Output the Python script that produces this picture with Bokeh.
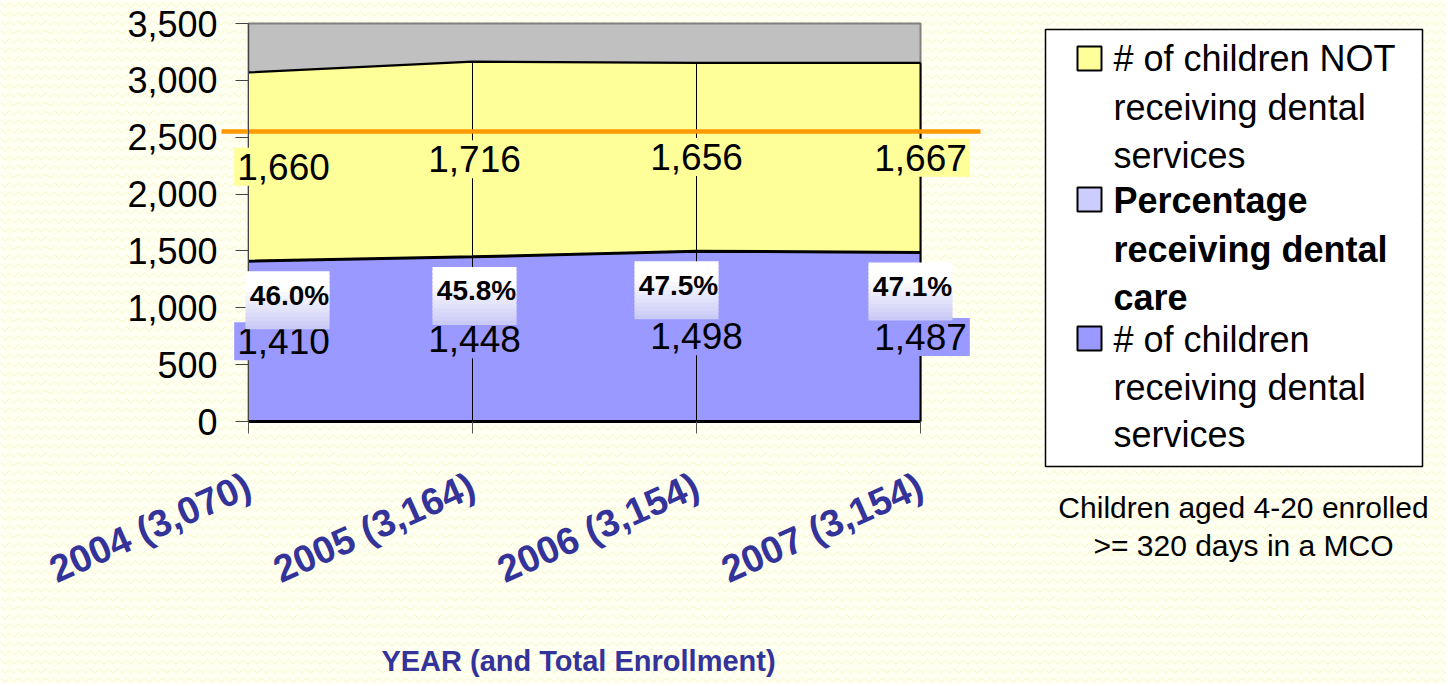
from bokeh.plotting import figure
from bokeh.models import (ColumnDataSource, Label, BoxAnnotation, FixedTicker,
                          NumeralTickFormatter, Range1d)
from bokeh.embed import file_html
from bokeh.resources import INLINE

# ---------------- data ----------------
years = ["2004 (3,070)", "2005 (3,164)", "2006 (3,154)", "2007 (3,154)"]
receiving = [1410, 1448, 1498, 1487]          # children receiving dental services
not_receiving = [1660, 1716, 1656, 1667]      # children NOT receiving dental services
pct_receiving = [46.0, 45.8, 47.5, 47.1]      # percentage receiving dental care
benchmark = 2550                              # orange reference line
y_ticks = [0, 500, 1000, 1500, 2000, 2500, 3000, 3500]

legend_lines = [
    ["# of children NOT", "receiving dental", "services"],
    ["Percentage", "receiving dental", "care"],
    ["# of children", "receiving dental", "services"],
]
caption_lines = ["Children aged 4-20 enrolled", ">= 320 days in a MCO"]

# ---------------- style ----------------
BG = "#FFFFF2"
GREY = "#C0C0C0"
YELLOW = "#FFFF99"
BLUE = "#9999FF"
LAV = "#CCCCFF"
ORANGE = "#FF9900"
NAVY = "#333399"
FONT = "Liberation Sans"

W, H = 1446, 684
PL, PR, PT, PB = 248, 920, 23, 421          # plot-area edges in pixels
X0, X1, Y0, Y1 = 0, len(years) - 1, 0, y_ticks[-1]
PXX = (PR - PL) / (X1 - X0)                 # pixels per x unit
PXY = (PB - PT) / (Y1 - Y0)                 # pixels per y unit


def X(px):  # pixel -> data x
    return X0 + (px - PL) / PXX


def Y(py):  # pixel -> data y
    return Y0 + (PB - py) / PXY


xs = list(range(len(years)))
total = [r + n for r, n in zip(receiving, not_receiving)]
src = ColumnDataSource(dict(x=xs, receiving=receiving, not_receiving=not_receiving,
                            total=total, zero=[0] * len(xs)))

p = figure(width=W, height=H, x_range=Range1d(X(0), X(W)), y_range=Range1d(Y(H), Y(0)),
           output_backend="svg", toolbar_location=None, min_border=0,
           background_fill_color=BG, border_fill_color=BG, outline_line_color=None)
p.grid.visible = False

# page texture
p.quad(left=[X(0)], right=[X(W)], bottom=[Y(H)], top=[Y(0)], fill_color=BG, line_color=None,
       hatch_pattern="horizontal_wave", hatch_color="#F6F6C6", hatch_scale=9, hatch_weight=1)

# plot area background
p.quad(left=[X0], right=[X1], bottom=[Y0], top=[Y1], fill_color=GREY,
       line_color="#808080", line_width=2)

# stacked areas
p.varea_stack(["receiving", "not_receiving"], x="x", color=[BLUE, YELLOW], source=src)
p.segment(x0="x", y0="zero", x1="x", y1="total", line_color="black", line_width=1, source=src)
p.line("x", "receiving", line_color="black", line_width=3, source=src)
p.line("x", "total", line_color="black", line_width=2.2, source=src)
p.segment(x0=[X1], y0=[0], x1=[X1], y1=[total[-1]], line_color="black", line_width=2)

# orange benchmark line (extends past the plot area)
p.segment(x0=[X(221)], x1=[X(980)], y0=[benchmark], y1=[benchmark],
          line_color=ORANGE, line_width=4.5)

# axes
xa = p.xaxis[0]
xa.fixed_location = Y0
xa.bounds = (X0, X1)
xa.ticker = FixedTicker(ticks=xs)
xa.major_label_overrides = {i: t for i, t in enumerate(years)}
xa.major_label_orientation = 0.42
xa.major_label_text_font = FONT
xa.major_label_text_font_size = "38px"
xa.major_label_text_font_style = "bold"
xa.major_label_text_color = NAVY
xa.major_label_standoff = 50
xa.axis_line_color = "black"
xa.axis_line_width = 3
xa.major_tick_out = 12
xa.major_tick_in = 0
xa.major_tick_line_color = "#555555"
xa.minor_tick_line_color = None

ya = p.yaxis[0]
ya.fixed_location = X0
ya.bounds = (Y0, Y1)
ya.ticker = FixedTicker(ticks=y_ticks)
ya.formatter = NumeralTickFormatter(format="0,0")
ya.major_label_text_font = FONT
ya.major_label_text_font_size = "36px"
ya.major_label_text_color = "black"
ya.major_label_standoff = 18
ya.axis_line_color = "#444444"
ya.axis_line_width = 1
ya.major_tick_out = 13
ya.major_tick_in = 0
ya.major_tick_line_color = "#444444"
ya.minor_tick_line_color = None

p.add_layout(Label(x=(X0 + X1) / 2, y=Y(660), x_offset=-6, text="YEAR (and Total Enrollment)",
                   text_align="center", text_baseline="middle", text_font=FONT,
                   text_font_size="29px", text_font_style="bold", text_color=NAVY))

# value labels
shift_counts = [35, 2, 0, 0]
shift_pct = [41, 4, -18, -8]
BOX_W, BOX_H, N_STRIP = 84, 58, 14
for i in xs:
    p.add_layout(Label(x=xs[i], y=receiving[i] + not_receiving[i] / 2, x_offset=shift_counts[i],
                       text=f"{not_receiving[i]:,}", text_align="center", text_baseline="middle",
                       text_font=FONT, text_font_size="37px", text_color="black",
                       background_fill_color=YELLOW,
                       padding=dict(left=3, right=3, top=6, bottom=6)))
    p.add_layout(Label(x=xs[i], y=receiving[i] / 2, x_offset=shift_counts[i],
                       text=f"{receiving[i]:,}", text_align="center", text_baseline="middle",
                       text_font=FONT, text_font_size="37px", text_color="black",
                       background_fill_color=BLUE,
                       padding=dict(left=3, right=3, top=6, bottom=6)))
    # gradient box behind the percentage label (white -> lavender)
    ty = receiving[i] - 300
    cx = xs[i] + (shift_pct[i] - 2) / PXX
    cy = ty - 5 / PXY
    for s in range(N_STRIP):
        t = (s + 0.5) / N_STRIP
        tt = max(0.0, (t - 0.3) / 0.7)
        c = (int(255 - 55 * tt), int(255 - 55 * tt), int(255 - 8 * tt))
        top = cy + (BOX_H / 2 - s * BOX_H / N_STRIP) / PXY
        bot = cy + (BOX_H / 2 - (s + 1) * BOX_H / N_STRIP - (1.5 if s < N_STRIP - 1 else 0)) / PXY
        p.add_layout(BoxAnnotation(left=cx - BOX_W / 2 / PXX, right=cx + BOX_W / 2 / PXX,
                                   top=top, bottom=bot, fill_color="#%02x%02x%02x" % c,
                                   fill_alpha=1, line_color=None))
    p.add_layout(Label(x=xs[i], y=ty, x_offset=shift_pct[i],
                       text=f"{pct_receiving[i]:.1f}%", text_align="center", text_baseline="middle",
                       text_font=FONT, text_font_size="28px", text_font_style="bold",
                       text_color="black"))

# legend
p.add_layout(BoxAnnotation(left=X(1045), right=X(1422), top=Y(29), bottom=Y(466),
                           fill_color="white", fill_alpha=1, line_color="black", line_alpha=1,
                           line_width=1.5))
sq_centers = [58, 199, 338]
sq_colors = [YELLOW, LAV, BLUE]
line_centers = [[58, 107, 155], [200, 249, 297], [339, 387, 434]]
for k in range(3):
    p.add_layout(BoxAnnotation(left=X(1077), right=X(1101), top=Y(sq_centers[k] - 12),
                               bottom=Y(sq_centers[k] + 12), fill_color=sq_colors[k], fill_alpha=1,
                               line_color="black", line_alpha=1, line_width=2))
    for j, line in enumerate(legend_lines[k]):
        p.add_layout(Label(x=X(1113), y=Y(line_centers[k][j]), text=line, text_align="left",
                           text_baseline="middle", text_font=FONT, text_font_size="36px",
                           text_font_style="bold" if k == 1 else "normal", text_color="black"))

for j, line in enumerate(caption_lines):
    p.add_layout(Label(x=X(1243), y=Y([507, 545][j]), text=line, text_align="center",
                       text_baseline="middle", text_font=FONT, text_font_size="30px",
                       text_color="black"))

open("out.html", "w").write(file_html(p, INLINE))
